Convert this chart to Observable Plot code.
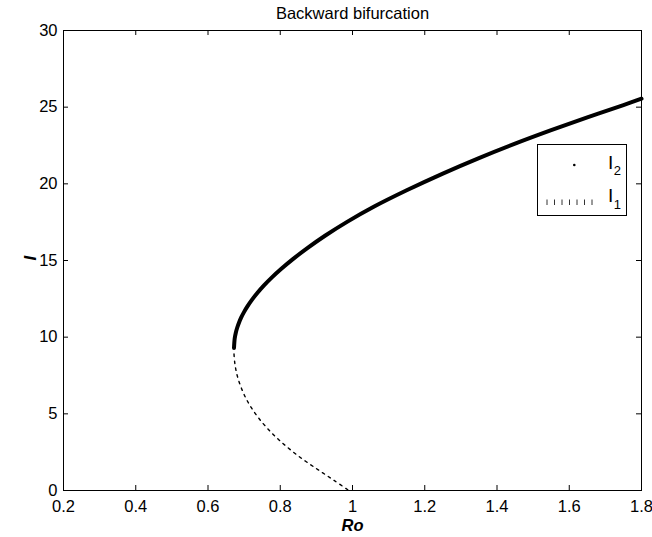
<!DOCTYPE html>
<html><head><meta charset="utf-8">
<script src="https://cdn.jsdelivr.net/npm/d3@7"></script>
<script src="https://cdn.jsdelivr.net/npm/@observablehq/plot@0.6"></script>
<style>
body{margin:0;background:#fff;}
#wrap{position:relative;width:652px;height:537px;font-family:"Liberation Sans",Arial,Helvetica,sans-serif;}
#wrap svg.legend{position:absolute;left:537px;top:144px;overflow:visible;}
</style></head><body><div id="wrap"></div>
<script>
const title = "Backward bifurcation";
const xLabel = "Ro";
const yLabel = "I";
const xTicks = [0.2, 0.4, 0.6, 0.8, 1.0, 1.2, 1.4, 1.6, 1.8];
const xTickLabels = ["0.2", "0.4", "0.6", "0.8", "1", "1.2", "1.4", "1.6", "1.8"];
const yTicks = [0, 5, 10, 15, 20, 25, 30];
const yTickLabels = ["0", "5", "10", "15", "20", "25", "30"];

// Upper (stable) branch I2
const i2Ro = [0.672, 0.674, 0.677, 0.681, 0.686, 0.692, 0.700, 0.710, 0.722, 0.737, 0.755, 0.777, 0.803, 0.835, 0.875, 0.925, 0.985, 1.06, 1.15, 1.25, 1.35, 1.45, 1.55, 1.65, 1.75, 1.80];
const i2I  = [9.3, 9.93, 10.29, 10.63, 10.96, 11.29, 11.65, 12.04, 12.45, 12.9, 13.38, 13.9, 14.46, 15.09, 15.81, 16.63, 17.52, 18.52, 19.58, 20.67, 21.68, 22.62, 23.5, 24.34, 25.14, 25.55];
// Lower (unstable) branch I1
const i1Ro = [0.672, 0.674, 0.678, 0.684, 0.693, 0.705, 0.720, 0.740, 0.765, 0.795, 0.830, 0.870, 0.910, 0.950, 0.990];
const i1I  = [8.9, 8.34, 7.78, 7.24, 6.64, 6.01, 5.4, 4.73, 4.04, 3.33, 2.62, 1.91, 1.27, 0.64, 0.0];

const legendBase = ["I", "I"];
const legendSub = ["2", "1"];

const W = 652, H = 537, mL = 63, mR = 11, mT = 30, mB = 47;
const iw = W - mL - mR, ih = H - mT - mB;
const tickLen = 5;
const font = '"Liberation Sans", Arial, Helvetica, sans-serif';

const i2 = i2Ro.map((r, k) => ({Ro: r, I: i2I[k]}));
const i1 = i1Ro.map((r, k) => ({Ro: r, I: i1I[k]}));

const chart = Plot.plot({
  width: W, height: H,
  marginLeft: mL, marginRight: mR, marginTop: mT, marginBottom: mB,
  x: {domain: [0.2, 1.8]},
  y: {domain: [0, 30]},
  style: {fontFamily: font, fontSize: "16.5px", color: "#000", background: "#fff", overflow: "visible"},
  marks: [
    Plot.line(i1, {x: "Ro", y: "I", stroke: "#000", strokeWidth: 1.4, strokeDasharray: "2.5,4.5", curve: "catmull-rom"}),
    Plot.line(i2, {x: "Ro", y: "I", stroke: "#000", strokeWidth: 4, curve: "catmull-rom"}),
    Plot.frame({stroke: "#000"}),
    Plot.tickX(xTicks, {x: d => d, insetTop: ih - tickLen, stroke: "#000"}),
    Plot.tickX(xTicks, {x: d => d, insetBottom: ih - tickLen, stroke: "#000"}),
    Plot.tickY(yTicks, {y: d => d, insetRight: iw - tickLen, stroke: "#000"}),
    Plot.tickY(yTicks, {y: d => d, insetLeft: iw - tickLen, stroke: "#000"}),
    Plot.axisX({ticks: xTicks, tickSize: 0, tickPadding: 10, tickFormat: d => xTickLabels[xTicks.indexOf(d)], label: null, fontSize: 16.5}),
    Plot.axisY({ticks: yTicks, tickSize: 0, tickPadding: 6, tickFormat: d => yTickLabels[yTicks.indexOf(d)], label: null, fontSize: 16.5}),
    Plot.text([title], {text: d => d, frameAnchor: "top", dy: -12, lineAnchor: "bottom", fontSize: 16.5}),
    Plot.text([xLabel], {text: d => d, frameAnchor: "bottom", dy: 40, lineAnchor: "bottom", fontSize: 16.5, fontWeight: "bold", fontStyle: "italic"}),
    Plot.text([yLabel], {text: d => d, frameAnchor: "left", dx: -33, rotate: -90, fontSize: 17, fontWeight: "bold", fontStyle: "italic"})
  ]
});
const wrap = document.getElementById("wrap");
wrap.appendChild(chart);

// Legend box (inside plot, upper right)
const lg = d3.select(wrap).append("svg").attr("class", "legend")
  .attr("width", 90).attr("height", 73);
lg.append("rect").attr("x", 0.5).attr("y", 0.5).attr("width", 89).attr("height", 71)
  .attr("fill", "#fff").attr("stroke", "#000").attr("stroke-width", 1);
lg.append("circle").attr("cx", 37.3).attr("cy", 21).attr("r", 1.3).attr("fill", "#000");
d3.range(7).forEach(k => {
  lg.append("line").attr("x1", 10 + 7.5 * k).attr("x2", 10 + 7.5 * k)
    .attr("y1", 55.5).attr("y2", 61).attr("stroke", "#333").attr("stroke-width", 1);
});
const rows = [24.5, 58];
legendBase.forEach((b, k) => {
  const t = lg.append("text").attr("x", 71).attr("y", rows[k])
    .attr("font-family", font).attr("font-size", 19).attr("fill", "#000");
  t.append("tspan").text(b);
  t.append("tspan").attr("dy", 6.5).attr("dx", 0.5).attr("font-size", 13).text(legendSub[k]);
});
</script></body></html>
